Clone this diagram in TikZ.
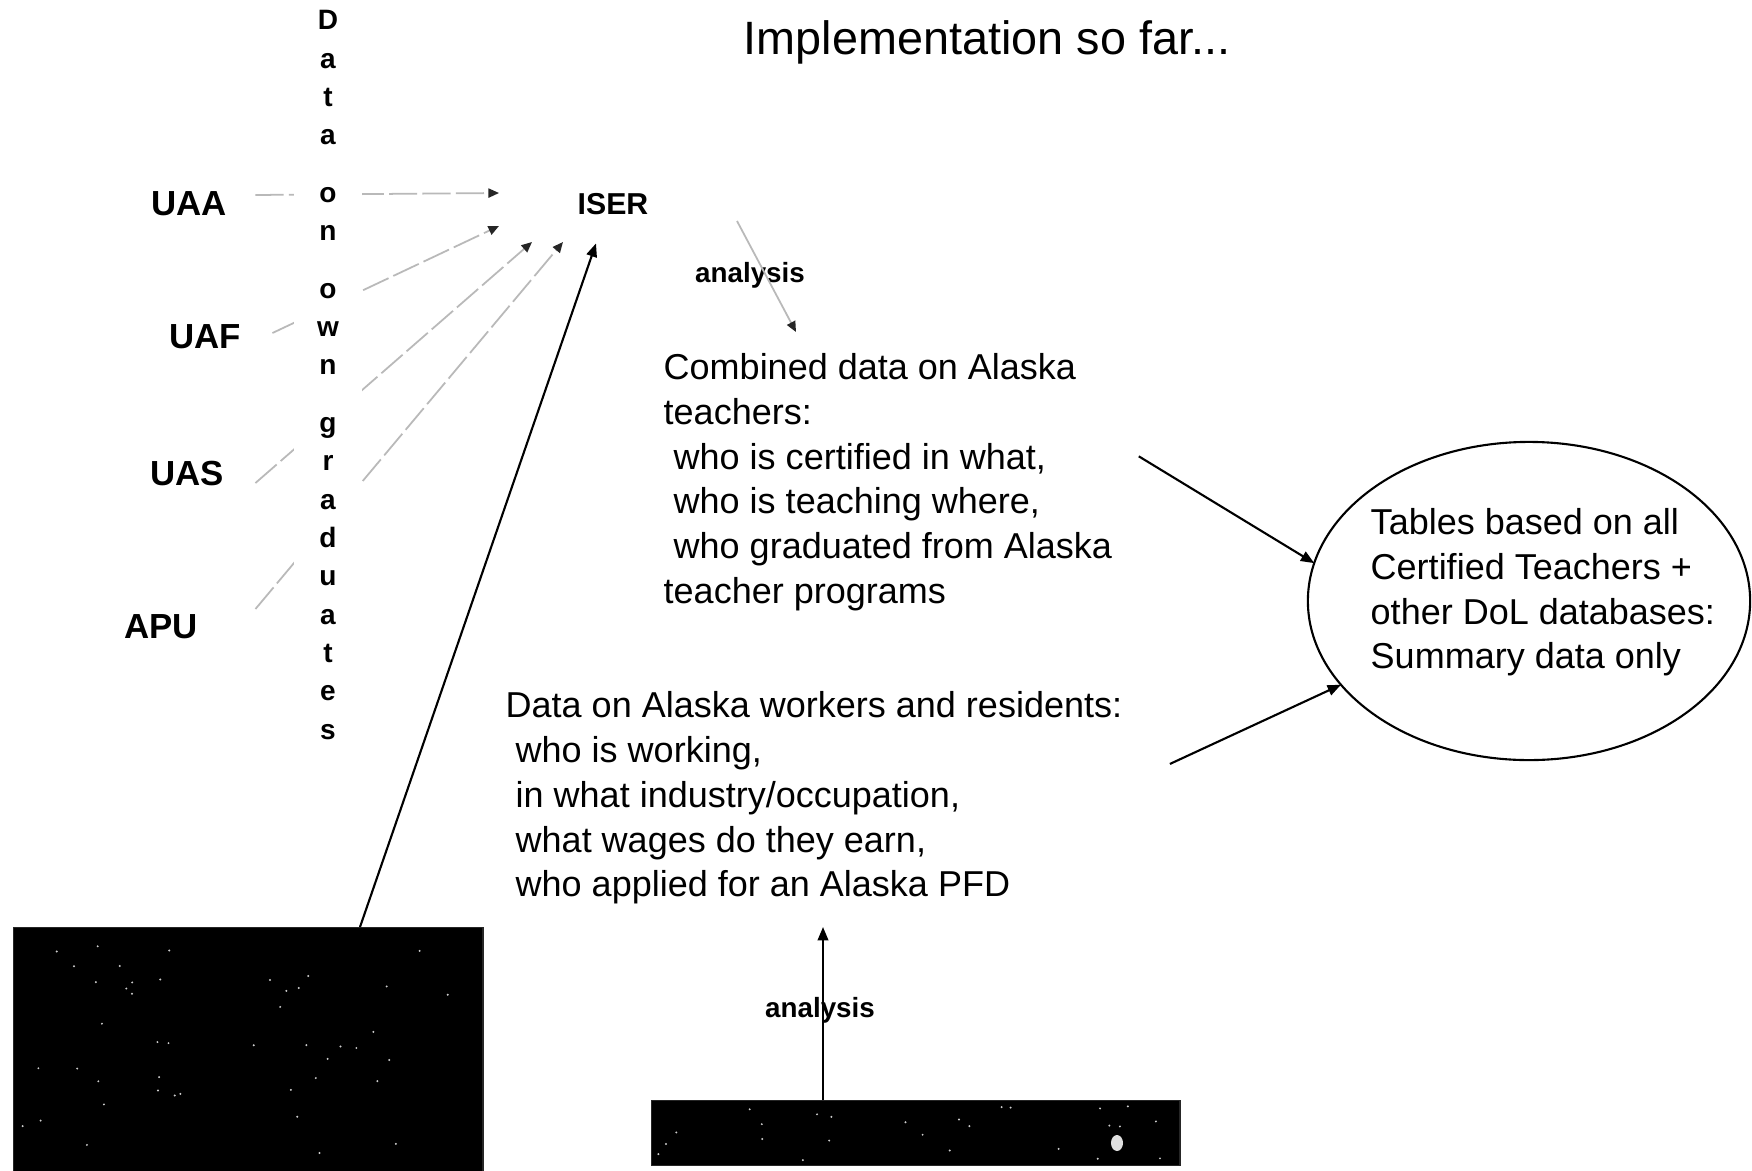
\documentclass[tikz,border=0pt]{standalone}
\usepackage{fontspec}
\setmainfont{Liberation Sans}
\usetikzlibrary{shapes.geometric,arrows.meta,calc,positioning}

\tikzset{
  unilabel/.style={font=\fontsize{9.9}{12}\selectfont\bfseries, inner sep=0pt},
  iserlabel/.style={font=\fontsize{8.6}{10}\selectfont\bfseries, inner sep=0pt},
  bodytext/.style={font=\fontsize{10.24}{12.72}\selectfont, align=left, inner sep=0pt, anchor=north west},
  analysislabel/.style={font=\fontsize{7.9}{9}\selectfont\bfseries, inner sep=0pt},
  feed/.style={gray!55, line width=0.5pt, -{Triangle[length=3pt,width=2.6pt,color=black!85]}},
  flow/.style={black, line width=0.6pt, -{Triangle[length=3.8pt,width=3pt]}},
  dbbox/.style={fill=black, draw=black!85, inner sep=0pt, anchor=north west},
}

\begin{document}
\begin{tikzpicture}[x=0.01cm, y=-0.01cm]
    \fill[white] (0,0) rectangle (1752,1170);
    \useasboundingbox (0,0) rectangle (1752,1170);

    \node[font=\fontsize{13.3}{15}\selectfont, inner sep=0pt, anchor=base] (title) at (987,55) {Implementation so far...};

    \foreach \uni/\xpos/\ypos in {UAA/189/204, UAF/205/337, UAS/187/474, APU/161/627}
        \node[unilabel] (\uni) at (\xpos,\ypos) {\uni};
    \node[iserlabel] (iser) at (613,204) {ISER};

    \foreach \uni/\sx/\sy/\ex/\ey in {UAA/28/-9/-78/-11, UAF/31/-4/-78/22, UAS/31/9/-45/38, APU/57/-18/-14/38}
        \draw[feed, dash pattern=on 8pt off 1.5pt] ($(\uni.east)+(\sx,\sy)$) -- ($(iser.west)+(\ex,\ey)$);

    \node[font=\fontsize{7.97}{10.9}\selectfont\bfseries, align=center, fill=white, inner ysep=0pt, minimum width=0.68cm, anchor=north] (gradcol) at (328,10)
        {D\\a\\t\\a\\[5.45pt]o\\n\\[5.45pt]o\\w\\n\\[5.45pt]g\\r\\a\\d\\u\\a\\t\\e\\s};

    \node[bodytext] (combined) at (663,353) {Combined data on Alaska\\teachers:\\\ who is certified in what,\\\ who is teaching where,\\\ who graduated from Alaska\\teacher programs};
    \node[bodytext] (workers) at (505,691) {Data on Alaska workers and residents:\\\ who is working,\\\ in what industry/occupation,\\\ what wages do they earn,\\\ who applied for an Alaska PFD};

    \node[draw, ellipse, line width=0.6pt, minimum width=4.42cm, minimum height=3.18cm, inner sep=0pt, outer sep=0pt] (tables) at (1529,601) {};
    \node[bodytext] (tablestext) at (1370,508) {Tables based on all\\Certified Teachers +\\other DoL databases:\\Summary data only};

    \node[dbbox, minimum width=4.69cm, minimum height=2.45cm] (bigdb) at (13,927) {};
    \node[dbbox, minimum width=5.28cm, minimum height=0.65cm] (smalldb) at (651,1100) {};
    \fill[gray!25] (1117,1143) ellipse (6 and 8);
    \pgfmathsetseed{11}
    \foreach \i in {1,...,45} {
        \pgfmathsetmacro\px{20 + rnd*455}
        \pgfmathsetmacro\py{935 + rnd*230}
        \fill[gray!40] (\px,\py) circle (1.1);
    }
    \foreach \i in {1,...,25} {
        \pgfmathsetmacro\px{658 + rnd*515}
        \pgfmathsetmacro\py{1106 + rnd*55}
        \fill[gray!40] (\px,\py) circle (1.1);
    }

    \node[analysislabel] (ana1) at (750,275) {analysis};
    \node[analysislabel] (ana2) at (820,1010) {analysis};

    \draw[feed] ($(iser.east)+(88,17)$) -- ($(combined.north west)+(133,-21)$);
    \draw[flow] ($(bigdb.north west)+(347,0)$) -- ($(iser.south west)+(19,28)$);
    \draw[flow] ($(combined.east)+(26,-26)$) -- (tables.170);
    \draw[flow] ($(workers.east)+(47,-34)$) -- (tables.204);
    \draw[flow] ($(smalldb.north west)+(172,0)$) -- ++(0,-173);
\end{tikzpicture}
\end{document}
